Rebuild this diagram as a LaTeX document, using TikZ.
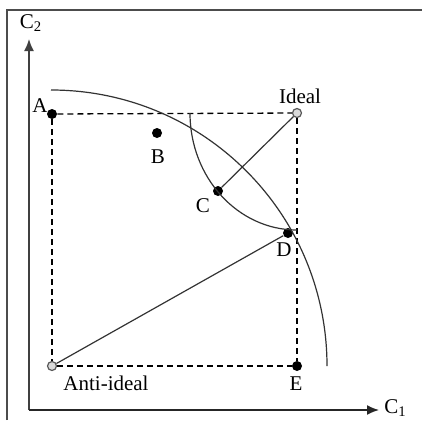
\documentclass[tikz,border=0pt]{standalone}
\usepackage{fontspec}
\setmainfont{Liberation Serif}
\usetikzlibrary{arrows.meta}

\begin{document}
\begin{tikzpicture}[x=0.5pt, y=0.5pt, >={Latex[length=6pt,width=5pt]},
    lbl/.style={font=\fontsize{10.5}{12}\selectfont, inner sep=0pt},
    dot/.style={circle, fill=black, inner sep=0pt, minimum size=5pt},
    hollow/.style={circle, draw=black!65, fill=black!15, line width=0.6pt, inner sep=0pt, minimum size=4.5pt},
    guide/.style={dashed, dash pattern=on 3pt off 2pt, line width=0.65pt, black},
    link/.style={line width=0.6pt, black!80}]
        \useasboundingbox (0,0) rectangle (422,420);

        % --- Cadre ---
        \draw[line width=0.8pt, black!70] (7,0) -- (7,410) -- (422,410);

        % --- Axes C1 / C2 ---
        \coordinate (O) at (29,10);
        \coordinate (c2_end) at (29,381);
        \coordinate (c1_end) at (379,10);
        \draw[->, line width=0.8pt, black!75] (O) -- (c2_end);
        \draw[->, line width=0.8pt, black!85] (O) -- (c1_end);
        \node[lbl, anchor=south] (c2lab) at (31,388) {C\textsubscript{2}};
        \node[lbl, anchor=west] (c1lab) at (384,12) {C\textsubscript{1}};

        % --- Points ---
        \node[dot] (A) at (52,306) {};
        \node[dot] (B) at (157,287) {};
        \node[dot] (C) at (218,229) {};
        \node[dot] (D) at (288,187) {};
        \node[dot] (E) at (297,54) {};
        \node[hollow] (ideal) at (297,307) {};
        \node[hollow] (anti) at (52,54) {};

        % --- Etiquettes ---
        \node[lbl] (Alab) at (40,314) {A};
        \node[lbl] (Blab) at (158,263) {B};
        \node[lbl] (Clab) at (203,214) {C};
        \node[lbl] (Dlab) at (284,170) {D};
        \node[lbl] (Elab) at (296,36) {E};
        \node[lbl] (ideallab) at (300,324) {Ideal};
        \node[lbl] (antilab) at (106,37) {Anti-ideal};

        % --- Rectangle en pointilles ---
        \draw[guide] (A) -- (ideal);
        \draw[guide] (ideal) -- (E);
        \draw[guide] (A) -- (anti);
        \draw[guide] (anti) -- (E);

        % --- Front et arc de distance ---
        \draw[link] (51,330) arc (90:0:276);
        \draw[link] (190,307) arc[start angle=180, end angle=270, x radius=107, y radius=117];

        % --- Distances aux points de reference ---
        \draw[link] (ideal) -- (C);
        \draw[link] (anti) -- (D);
\end{tikzpicture}
\end{document}
